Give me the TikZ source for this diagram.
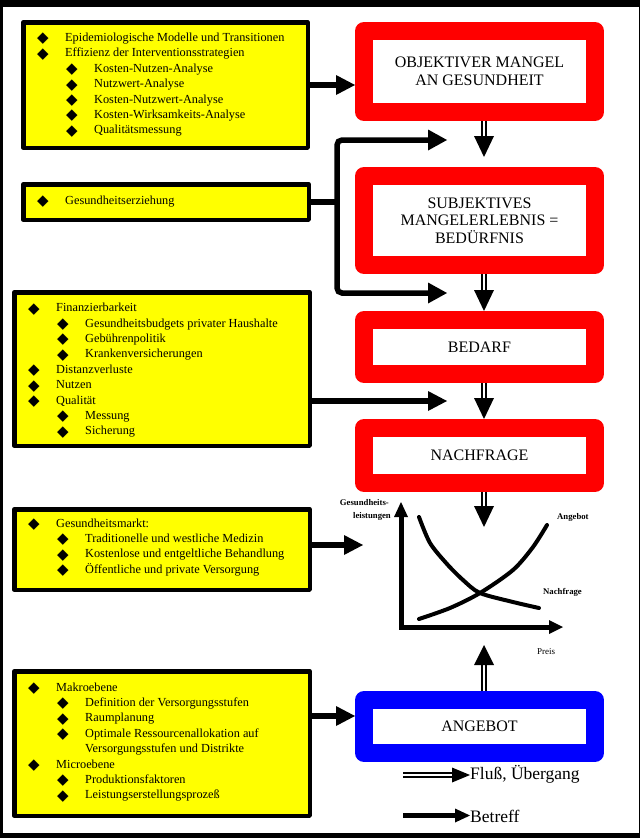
\documentclass[tikz,border=0pt]{standalone}
\usepackage{fontspec}
\setmainfont{Liberation Serif}
\newfontfamily\symf{DejaVu Sans}
\usetikzlibrary{arrows.meta,calc}
\definecolor{ylw}{RGB}{255,255,0}
\definecolor{rd}{RGB}{255,0,0}
\definecolor{bl}{RGB}{0,0,255}
\newcommand\bul{\raisebox{-1.3pt}{\symf\fontsize{15}{15}\selectfont ◆}}
\newcommand\LA[1]{\makebox[28pt][l]{\bul}#1}
\newcommand\LB[1]{\hspace*{29pt}\makebox[28pt][l]{\bul}#1}
\newcommand\LC[1]{\hspace*{57pt}#1}
\newcommand\flowdown[2]{\draw[flow] (#1) -- ($(#2)+(0,-20)$);
  \fill ($(#2)+(-10,-21)$) -- (#2) -- ($(#2)+(10,-21)$) -- cycle;}
\newcommand\flowup[2]{\draw[flow] (#1) -- ($(#2)+(0,19)$);
  \fill ($(#2)+(-10,20)$) -- (#2) -- ($(#2)+(10,20)$) -- cycle;}
\begin{document}
\begin{tikzpicture}[x=1pt,y=-1pt,
  ybox/.style={draw=black, fill=ylw, line width=4.5pt, line join=round, inner sep=0pt},
  ytxt/.style={inner sep=0pt, anchor=base west, font=\fontsize{12.3}{15.4}\selectfont},
  rbox/.style={draw=rd, fill=white, line width=18pt, line join=round, inner sep=0pt,
    minimum width=231pt, align=center, font=\fontsize{16}{17.5}\selectfont},
  betr/.style={line width=5.5pt, -{Triangle[length=19pt,width=20pt,line width=0pt]}},
  bline/.style={line width=5.5pt},
  flow/.style={draw=black, double=white, double distance=1.7pt, line width=1.7pt},
  lab/.style={inner sep=0pt, font=\fontsize{8.7}{10}\selectfont\bfseries},
  legt/.style={inner sep=0pt, anchor=base west, font=\fontsize{17.5}{18}\selectfont}]
\useasboundingbox (0,0) rectangle (640,838);
\fill[black] (0,0) rectangle (640,838);
\fill[white] (3,7) rectangle (638.5,833);

% yellow boxes
\node[ybox, minimum width=284.5pt, minimum height=125.5pt] (b1) at (165.5,85) {};
\node[ybox, minimum width=285.5pt, minimum height=35.5pt] (b2) at (166,202) {};
\node[ybox, minimum width=295.5pt, minimum height=153.5pt] (b3) at (162,369) {};
\node[ybox, minimum width=295.5pt, minimum height=80.5pt] (b4) at (162,549.5) {};
\node[ybox, minimum width=295.5pt, minimum height=144.5pt] (b5) at (162,743.5) {};

\node[ytxt] (t1) at (37,41.5) {\begin{tabular}[t]{@{}l@{}}
\LA{Epidemiologische Modelle und Transitionen}\\
\LA{Effizienz der Interventionsstrategien}\\
\LB{Kosten-Nutzen-Analyse}\\
\LB{Nutzwert-Analyse}\\
\LB{Kosten-Nutzwert-Analyse}\\
\LB{Kosten-Wirksamkeits-Analyse}\\
\LB{Qualitätsmessung}
\end{tabular}};
\node[ytxt] (t2) at (37,204.5) {\LA{Gesundheitserziehung}};
\node[ytxt] (t3) at (28,311.7) {\begin{tabular}[t]{@{}l@{}}
\LA{Finanzierbarkeit}\\
\LB{Gesundheitsbudgets privater Haushalte}\\
\LB{Gebührenpolitik}\\
\LB{Krankenversicherungen}\\
\LA{Distanzverluste}\\
\LA{Nutzen}\\
\LA{Qualität}\\
\LB{Messung}\\
\LB{Sicherung}
\end{tabular}};
\node[ytxt] (t4) at (28,527) {\begin{tabular}[t]{@{}l@{}}
\LA{Gesundheitsmarkt:}\\
\LB{Traditionelle und westliche Medizin}\\
\LB{Kostenlose und entgeltliche Behandlung}\\
\LB{Öffentliche und private Versorgung}
\end{tabular}};
\node[ytxt] (t5) at (28,691) {\begin{tabular}[t]{@{}l@{}}
\LA{Makroebene}\\
\LB{Definition der Versorgungsstufen}\\
\LB{Raumplanung}\\
\LB{Optimale Ressourcenallokation auf}\\
\LC{Versorgungsstufen und Distrikte}\\
\LA{Microebene}\\
\LB{Produktionsfaktoren}\\
\LB{Leistungserstellungsprozeß}
\end{tabular}};

% red / blue boxes
\node[rbox, minimum height=81pt] (OBJ) at (479.5,71.5) {OBJEKTIVER MANGEL\\AN GESUNDHEIT};
\node[rbox, minimum height=89pt] (SUBJ) at (479.5,220.5) {SUBJEKTIVES\\MANGELERLEBNIS =\\BEDÜRFNIS};
\node[rbox, minimum height=54pt] (BED) at (479.5,347) {BEDARF};
\node[rbox, minimum height=55pt] (NACH) at (479.5,455.5) {NACHFRAGE};
\node[rbox, draw=bl, minimum height=53pt] (ANG) at (479.5,726.5) {ANGEBOT};

% flow arrows
\coordinate (f1) at (484,157);
\coordinate (f2) at (484,311);
\coordinate (f3) at (484,419);
\coordinate (f4) at (484,527);
\coordinate (f5) at (484,645);
\flowdown{OBJ.south -| f1}{f1}
\flowdown{SUBJ.south -| f2}{f2}
\flowdown{BED.south -| f3}{f3}
\flowdown{NACH.south -| f4}{f4}
\flowup{ANG.north -| f5}{f5}

% Betreff arrows
\draw[betr] (b1.east) -- (OBJ.west |- b1.east);
\coordinate (jn) at (337,202);
\coordinate (cTop) at (447,140);
\coordinate (cBot) at (447,293);
\draw[bline] (b2.east) -- (jn);
\draw[bline, rounded corners=5pt, {Triangle[length=19pt,width=21pt,line width=0pt]}-{Triangle[length=19pt,width=21pt,line width=0pt]}] (cTop) -| (jn) |- (cBot);
\coordinate (c3) at (447,401);
\draw[betr] (b3.east |- c3) -- (c3);
\coordinate (c4) at (363,545);
\draw[betr] (b4.east |- c4) -- (c4);
\coordinate (c5) at (355,716);
\draw[betr] (b5.east |- c5) -- (c5);

% chart
\coordinate (O) at (401,627);
\coordinate (yt) at (401,502);
\coordinate (xt) at (563,627);
\draw[line width=5pt, {Triangle[length=15pt,width=14pt,line width=0pt]}-{Triangle[length=14pt,width=14pt,line width=0pt]}] (yt) -- (O) -- (xt);
\draw[line width=4pt, line cap=round] plot[smooth] coordinates {(419,517) (430,543) (447,564) (463,580) (480,593) (513,602) (539,608)};
\draw[line width=4pt, line cap=round] plot[smooth] coordinates {(419,619) (450,608) (480,593) (513,570) (533,547) (547,525)};
\node[lab, anchor=base east] (lg1) at (389,505) {Gesundheits-};
\node[lab, anchor=base east] (lg2) at (391,518) {leistungen};
\node[lab, anchor=base west] (la) at (557,519) {Angebot};
\node[lab, anchor=base west] (ln) at (543,594) {Nachfrage};
\node[lab, anchor=base west, font=\fontsize{9}{10}\selectfont] (lp) at (537,654) {Preis};

% legend
\coordinate (l1s) at (403,775);
\coordinate (l1t) at (470,775);
\draw[flow] (l1s) -- ($(l1t)+(-17,0)$);
\fill ($(l1t)+(-18,-7.5)$) -- (l1t) -- ($(l1t)+(-18,7.5)$) -- cycle;
\node[legt] (lt1) at (470,779) {Fluß, Übergang};
\coordinate (l2s) at (403,815.5);
\coordinate (l2t) at (470,815.5);
\draw[line width=5pt, -{Triangle[length=15pt,width=14pt,line width=0pt]}] (l2s) -- (l2t);
\node[legt] (lt2) at (470,822) {Betreff};
\end{tikzpicture}
\end{document}
